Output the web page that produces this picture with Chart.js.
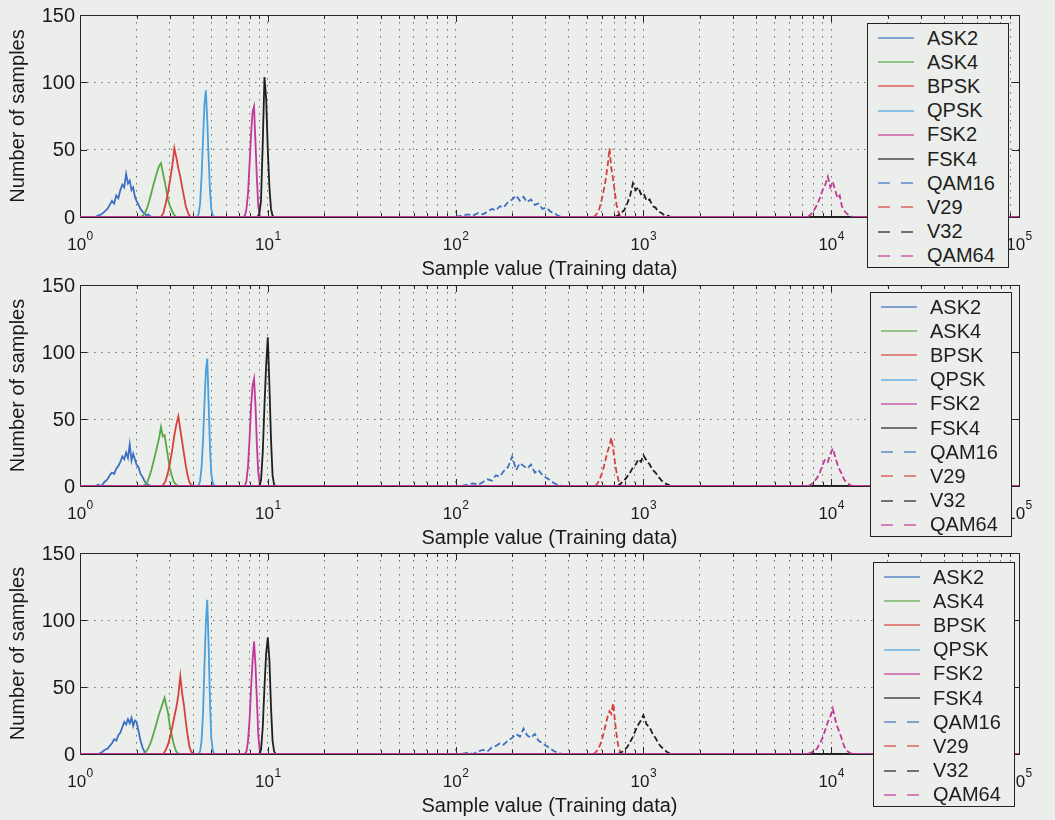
<!DOCTYPE html>
<html>
<head>
<meta charset="utf-8">
<script src="https://cdn.jsdelivr.net/npm/chart.js@4.4.1/dist/chart.umd.min.js"></script>
<style>
  html, body { margin: 0; padding: 0; background: #ebeeeb; }
  body { width: 1055px; height: 820px; position: relative; overflow: hidden; font-family: "Liberation Sans", Arial, sans-serif; }
  canvas.panel { position: absolute; left: 0; }
  .legend { position: absolute; box-sizing: border-box; border: 1px solid #222; background: #ebeeeb; padding-top: 2px; z-index: 2; }
  .legend-row { height: 24.2px; display: flex; align-items: center; font-size: 20px; color: #1e1e1e; }
  .legend-row svg { margin-left: 10px; margin-right: 13px; }
</style>
</head>
<body>
<canvas id="panel1" class="panel" width="1055" height="290" style="top:0px"></canvas>
<canvas id="panel2" class="panel" width="1055" height="290" style="top:270px"></canvas>
<canvas id="panel3" class="panel" width="1055" height="282" style="top:538px"></canvas>
<script>
const seriesNames = ["ASK2", "ASK4", "BPSK", "QPSK", "FSK2", "FSK4", "QAM16", "V29", "V32", "QAM64"];
const seriesColors = ["#3d6fc4", "#5aa947", "#d8403e", "#48a0de", "#c2389b", "#1f1f1f", "#3d6fc4", "#d8403e", "#1f1f1f", "#c2389b"];
const dashedSeries = [false, false, false, false, false, false, true, true, true, true];

const xTickExponents = [0, 1, 2, 3, 4, 5];
const yTickValues = [0, 50, 100, 150];
const xAxisTitle = "Sample value (Training data)";
const yAxisTitle = "Number of samples";

// histogram bin centres for each modulation
const ask2Bins = [1.20, 1.25, 1.30, 1.35, 1.40, 1.44, 1.48, 1.52, 1.56, 1.60, 1.64, 1.68, 1.72, 1.76, 1.80, 1.84, 1.88, 1.92, 1.96, 2.00, 2.05, 2.10, 2.15, 2.20, 2.25, 2.30, 2.40, 2.50];
const ask4Bins = [2.10, 2.16, 2.22, 2.28, 2.34, 2.40, 2.46, 2.52, 2.58, 2.64, 2.70, 2.76, 2.82, 2.88, 2.94, 3.00, 3.08, 3.16, 3.25, 3.35];
const bpskBins = [2.70, 2.78, 2.86, 2.94, 3.02, 3.10, 3.18, 3.26, 3.34, 3.42, 3.50, 3.58, 3.66, 3.74, 3.82, 3.90, 4.00];
const qpskBins = [4.20, 4.28, 4.36, 4.44, 4.52, 4.60, 4.68, 4.76, 4.84, 4.92, 5.00, 5.10, 5.20];
const fsk2Bins = [7.40, 7.55, 7.70, 7.85, 8.00, 8.15, 8.30, 8.45, 8.60, 8.75, 8.90, 9.05, 9.20];
const fsk4Bins = [8.80, 9.00, 9.20, 9.40, 9.60, 9.80, 10.00, 10.20, 10.40, 10.60, 10.80, 11.00];
const qam16Bins = [100, 108, 116, 124, 132, 140, 148, 156, 164, 172, 180, 190, 200, 210, 220, 230, 240, 252, 264, 276, 290, 305, 320, 335, 350, 370, 400];
const v29Bins = [540, 555, 570, 585, 600, 615, 630, 645, 660, 675, 690, 705, 720, 735, 750, 770];
const v32Bins = [700, 730, 760, 790, 820, 850, 880, 910, 940, 970, 1000, 1040, 1080, 1120, 1160, 1200, 1250, 1300, 1350, 1400];
const qam64Bins = [7500, 7800, 8100, 8400, 8700, 9000, 9300, 9600, 9900, 10200, 10500, 10800, 11100, 11400, 11700, 12000, 12500, 13000];

// counts, top panel
const ask2Top = [0, 1, 2, 4, 6, 9, 12, 10, 16, 14, 20, 24, 22, 32, 25, 27, 20, 22, 15, 12, 9, 6, 4, 3, 1, 2, 0, 0];
const ask4Top = [0, 1, 3, 7, 12, 18, 24, 29, 34, 38, 40, 33, 27, 20, 13, 9, 5, 2, 0, 0];
const bpskTop = [0, 3, 10, 18, 28, 38, 51, 44, 36, 30, 22, 15, 8, 4, 1, 0, 0];
const qpskTop = [0, 2, 10, 30, 58, 84, 94, 72, 44, 20, 6, 1, 0];
const fsk2Top = [0, 1, 6, 18, 40, 62, 78, 82, 55, 28, 8, 1, 0];
const fsk4Top = [0, 2, 12, 55, 104, 88, 50, 22, 6, 1, 0, 0];
const qam16Top = [0, 1, 2, 1, 3, 2, 4, 6, 5, 8, 7, 11, 13, 16, 12, 15, 11, 13, 9, 10, 6, 7, 4, 3, 1, 0, 0];
const v29Top = [0, 1, 3, 7, 13, 20, 28, 38, 51, 36, 28, 18, 9, 4, 1, 0];
const v32Top = [0, 1, 3, 5, 10, 16, 25, 20, 22, 17, 18, 12, 13, 8, 7, 4, 3, 1, 1, 0];
const qam64Top = [0, 2, 5, 9, 14, 20, 24, 30, 22, 26, 20, 14, 16, 8, 5, 3, 1, 0];

// counts, middle panel
const ask2Mid = [0, 1, 0, 3, 5, 8, 10, 9, 13, 15, 18, 22, 20, 25, 21, 31, 19, 24, 20, 16, 14, 9, 7, 4, 2, 1, 0, 0];
const ask4Mid = [0, 0, 1, 3, 7, 12, 18, 24, 30, 36, 44, 37, 38, 30, 22, 14, 8, 3, 1, 0];
const bpskMid = [0, 1, 4, 10, 18, 27, 38, 46, 52, 42, 33, 24, 15, 8, 3, 1, 0];
const qpskMid = [0, 0, 4, 14, 34, 62, 86, 95, 62, 30, 9, 2, 0];
const fsk2Mid = [0, 0, 4, 15, 36, 60, 75, 80, 60, 30, 10, 2, 0];
const fsk4Mid = [0, 0, 4, 25, 60, 90, 111, 75, 35, 8, 1, 0];
const qam16Mid = [0, 0, 1, 2, 1, 3, 5, 4, 8, 7, 11, 14, 22, 12, 17, 15, 13, 16, 10, 12, 8, 6, 4, 2, 1, 0, 0];
const v29Mid = [0, 0, 2, 5, 9, 14, 20, 26, 30, 36, 28, 18, 10, 5, 1, 0];
const v32Mid = [0, 0, 2, 4, 7, 10, 14, 16, 20, 18, 23, 19, 16, 12, 10, 7, 4, 2, 1, 0];
const qam64Mid = [0, 1, 3, 6, 10, 16, 20, 18, 24, 28, 22, 16, 12, 9, 5, 3, 1, 0];

// counts, bottom panel
const ask2Bottom = [0, 0, 1, 3, 4, 6, 8, 11, 10, 14, 16, 20, 24, 22, 26, 23, 27, 21, 25, 24, 17, 10, 5, 2, 0, 0, 0, 0];
const ask4Bottom = [0, 0, 1, 3, 6, 10, 15, 20, 25, 30, 34, 38, 42, 36, 31, 22, 14, 7, 2, 0];
const bpskBottom = [0, 0, 3, 7, 13, 20, 28, 35, 44, 58, 45, 36, 24, 14, 6, 2, 0];
const qpskBottom = [0, 0, 2, 10, 30, 66, 98, 115, 82, 40, 12, 2, 0];
const fsk2Bottom = [0, 0, 2, 10, 26, 50, 70, 84, 66, 40, 14, 3, 0];
const fsk4Bottom = [0, 0, 3, 20, 50, 75, 87, 70, 35, 10, 2, 0];
const qam16Bottom = [0, 0, 1, 0, 2, 3, 2, 5, 6, 8, 7, 10, 12, 15, 13, 19, 14, 12, 15, 10, 8, 6, 4, 2, 1, 0, 0];
const v29Bottom = [0, 1, 3, 6, 10, 16, 22, 28, 32, 30, 38, 25, 14, 6, 2, 0];
const v32Bottom = [0, 0, 1, 3, 5, 9, 13, 18, 22, 25, 29, 22, 20, 15, 12, 8, 5, 3, 1, 0];
const qam64Bottom = [0, 1, 2, 4, 8, 12, 18, 24, 28, 34, 26, 20, 16, 11, 6, 3, 1, 0];

const binsList = [ask2Bins, ask4Bins, bpskBins, qpskBins, fsk2Bins, fsk4Bins, qam16Bins, v29Bins, v32Bins, qam64Bins];
const panelCounts = [
  [ask2Top, ask4Top, bpskTop, qpskTop, fsk2Top, fsk4Top, qam16Top, v29Top, v32Top, qam64Top],
  [ask2Mid, ask4Mid, bpskMid, qpskMid, fsk2Mid, fsk4Mid, qam16Mid, v29Mid, v32Mid, qam64Mid],
  [ask2Bottom, ask4Bottom, bpskBottom, qpskBottom, fsk2Bottom, fsk4Bottom, qam16Bottom, v29Bottom, v32Bottom, qam64Bottom],
];

const xMin = 1;
const xMax = 100000;
const dataDash = [6, 3];
const labelFont = '"Liberation Sans", Arial, sans-serif';

const panels = [
  { id: "panel1", plotHeight: 202, canvasHeight: 290, legend: { left: 867, top: 23 } },
  { id: "panel2", plotHeight: 201, canvasHeight: 290, legend: { left: 870, top: 292 } },
  { id: "panel3", plotHeight: 201, canvasHeight: 282, legend: { left: 873, top: 562 } },
];

function buildDatasets(counts) {
  return seriesNames.map((name, i) => {
    const points = [{ x: xMin, y: 0 }];
    binsList[i].forEach((b, j) => points.push({ x: b, y: counts[i][j] }));
    points.push({ x: xMax, y: 0 });
    const ds = {
      label: name,
      data: points,
      showLine: true,
      pointRadius: 0,
      borderColor: seriesColors[i],
      borderWidth: 1.8,
      tension: 0,
      fill: false,
      order: seriesNames.length - i,
    };
    if (dashedSeries[i]) {
      ds.borderDash = dataDash;
      ds.segment = {
        borderDash: (ctx) => (ctx.p0.parsed.y === 0 && ctx.p1.parsed.y === 0 ? [] : dataDash),
      };
    }
    return ds;
  });
}

const axesFrame = {
  id: "axesFrame",
  beforeDatasetsDraw(chart) {
    const { ctx, chartArea: a, scales } = chart;
    ctx.save();
    ctx.strokeStyle = "#262626";
    ctx.lineWidth = 1;
    ctx.beginPath();
    scales.x.ticks.forEach((t) => {
      const px = Math.round(scales.x.getPixelForValue(t.value)) + 0.5;
      const lg = Math.log10(t.value);
      const len = Math.abs(lg - Math.round(lg)) < 1e-6 ? 7 : 4;
      ctx.moveTo(px, a.bottom);
      ctx.lineTo(px, a.bottom - len);
      ctx.moveTo(px, a.top);
      ctx.lineTo(px, a.top + len);
    });
    scales.y.ticks.forEach((t) => {
      const py = Math.round(scales.y.getPixelForValue(t.value)) + 0.5;
      ctx.moveTo(a.left, py);
      ctx.lineTo(a.left + 7, py);
      ctx.moveTo(a.right, py);
      ctx.lineTo(a.right - 7, py);
    });
    ctx.stroke();
    ctx.strokeRect(Math.round(a.left) + 0.5, Math.round(a.top) + 0.5, Math.round(a.right - a.left), Math.round(a.bottom - a.top));
    ctx.restore();
  },
  afterDraw(chart) {
    const { ctx, chartArea: a, scales } = chart;
    ctx.save();
    ctx.fillStyle = "#1a1a1a";

    ctx.font = "20px " + labelFont;
    ctx.textAlign = "right";
    ctx.textBaseline = "middle";
    yTickValues.forEach((v) => {
      ctx.fillText(String(v), a.left - 5, scales.y.getPixelForValue(v) + 1);
    });

    ctx.textAlign = "left";
    ctx.textBaseline = "alphabetic";
    xTickExponents.forEach((k) => {
      const px = scales.x.getPixelForValue(Math.pow(10, k));
      ctx.font = "17px " + labelFont;
      const w1 = ctx.measureText("10").width;
      ctx.font = "12px " + labelFont;
      const w2 = ctx.measureText(String(k)).width;
      const start = px - (w1 + w2) / 2;
      ctx.font = "17px " + labelFont;
      ctx.fillText("10", start, a.bottom + 33);
      ctx.font = "12px " + labelFont;
      ctx.fillText(String(k), start + w1 + 0.5, a.bottom + 23);
    });

    ctx.font = "20px " + labelFont;
    ctx.textAlign = "center";
    ctx.textBaseline = "middle";
    ctx.fillText(xAxisTitle, (a.left + a.right) / 2, a.bottom + 52);
    ctx.translate(18, (a.top + a.bottom) / 2);
    ctx.rotate(-Math.PI / 2);
    ctx.fillText(yAxisTitle, 0, 0);
    ctx.restore();
  },
};

function buildLegend(pos) {
  const box = document.createElement("div");
  box.className = "legend";
  box.style.left = pos.left + "px";
  box.style.top = pos.top + "px";
  box.style.width = "142px";
  box.style.height = "245px";
  seriesNames.forEach((name, i) => {
    const row = document.createElement("div");
    row.className = "legend-row";
    const dash = dashedSeries[i] ? ' stroke-dasharray="12 11"' : "";
    row.innerHTML = `<svg width="36" height="6"><line x1="0" y1="3" x2="36" y2="3" stroke="${seriesColors[i]}" stroke-width="1.5"${dash} opacity="0.8"/></svg><span>${name}</span>`;
    box.appendChild(row);
  });
  document.body.appendChild(box);
}

panels.forEach((panel, p) => {
  const canvas = document.getElementById(panel.id);
  new Chart(canvas, {
    type: "scatter",
    data: { datasets: buildDatasets(panelCounts[p]) },
    options: {
      responsive: false,
      animation: false,
      events: [],
      layout: { padding: { top: 15, right: 36, left: 0, bottom: 0 } },
      plugins: { legend: { display: false }, tooltip: { enabled: false } },
      scales: {
        x: {
          type: "logarithmic",
          min: xMin,
          max: xMax,
          afterBuildTicks: (scale) => {
            const ticks = [];
            for (let e = 0; e < 5; e++) {
              for (let m = 1; m < 10; m++) {
                ticks.push({ value: m * Math.pow(10, e) });
              }
            }
            ticks.push({ value: xMax });
            scale.ticks = ticks;
          },
          afterFit: (scale) => {
            scale.height = panel.canvasHeight - 15 - panel.plotHeight;
          },
          ticks: { display: false },
          grid: { color: "#6f6f6f", lineWidth: 1, drawTicks: false, borderDash: [1.5, 5.5] },
          border: { display: false, dash: [1.5, 5.5] },
        },
        y: {
          min: 0,
          max: 150,
          afterFit: (scale) => {
            scale.width = 80;
          },
          ticks: { display: false, stepSize: 50 },
          grid: { color: "#6f6f6f", lineWidth: 1, drawTicks: false, borderDash: [1.5, 5.5] },
          border: { display: false, dash: [1.5, 5.5] },
        },
      },
    },
    plugins: [axesFrame],
  });
  buildLegend(panel.legend);
});
</script>
</body>
</html>
